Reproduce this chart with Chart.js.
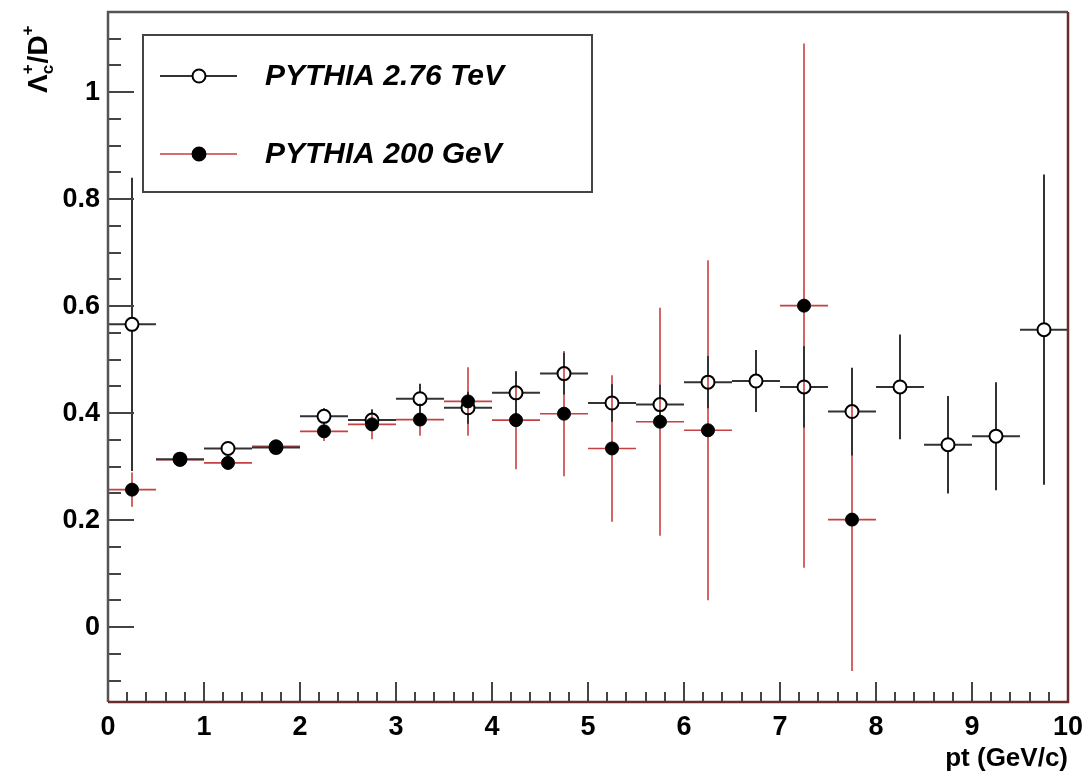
<!DOCTYPE html>
<html><head><meta charset="utf-8">
<script src="https://cdn.jsdelivr.net/npm/chart.js@4.4.0/dist/chart.umd.min.js"></script>
<style>html,body{margin:0;padding:0;background:#fff}#wrap{width:1088px;height:776px}</style>
</head><body><div id="wrap"><canvas id="c" width="1088" height="776"></canvas></div>
<script>
// ---- data ----
const binCenters   = [0.25,0.75,1.25,1.75,2.25,2.75,3.25,3.75,4.25,4.75,5.25,5.75,6.25,6.75,7.25,7.75,8.25,8.75,9.25,9.75];
const binHalfWidth = 0.25;
const tevValues = [0.566,0.314,0.334,0.336,0.394,0.387,0.427,0.410,0.438,0.474,0.419,0.416,0.458,0.460,0.449,0.403,0.449,0.341,0.357,0.556];
const tevErrors = [0.274,0.008,0.010,0.010,0.015,0.020,0.028,0.030,0.040,0.039,0.035,0.037,0.049,0.058,0.076,0.082,0.098,0.091,0.101,0.290];
const gevValues = [0.257,0.313,0.307,0.338,0.366,0.379,0.388,0.422,0.387,0.399,0.334,0.384,0.368,null,0.601,0.201,null,null,null,null];
const gevErrors = [0.032,0.010,0.012,0.010,0.018,0.028,0.030,0.064,0.092,0.117,0.137,0.213,0.318,null,0.490,0.283,null,null,null,null];
const xTickValues = [0,1,2,3,4,5,6,7,8,9,10];
const yTickValues = [0,0.2,0.4,0.6,0.8,1];
const yTickLabels = ['0','0.2','0.4','0.6','0.8','1'];
const seriesLabels = ['PYTHIA 2.76 TeV','PYTHIA 200 GeV'];

const FONT = '"Liberation Sans", Arial, Helvetica, sans-serif';
const RADIUS = 6.5;
const tevColor = '#333333';
const gevColor = '#c84040';

function pts(vals, errs){
  const out = [];
  binCenters.forEach((x,i)=>{ if(vals[i]!==null) out.push({x:x, y:vals[i], e:errs[i]}); });
  return out;
}

const errorBars = {
  id:'errorBars',
  beforeDatasetsDraw(chart){
    const ctx = chart.ctx, xs = chart.scales.x, ys = chart.scales.y;
    const area = chart.chartArea;
    ctx.save();
    ctx.beginPath(); ctx.rect(area.left, area.top, area.right-area.left, area.bottom-area.top); ctx.clip();
    [1,0].forEach(di=>{
      const ds = chart.data.datasets[di];
      ctx.strokeStyle = ds.errColor; ctx.lineWidth = ds.errWidth;
      ds.data.forEach(p=>{
        const px = xs.getPixelForValue(p.x), py = ys.getPixelForValue(p.y);
        const x1 = xs.getPixelForValue(p.x-binHalfWidth), x2 = xs.getPixelForValue(p.x+binHalfWidth);
        const yt = ys.getPixelForValue(p.y+p.e), yb = ys.getPixelForValue(p.y-p.e);
        const g = RADIUS;
        ctx.beginPath();
        ctx.moveTo(x1,py); ctx.lineTo(px-g,py);
        ctx.moveTo(px+g,py); ctx.lineTo(x2,py);
        if (py-yt > g){ ctx.moveTo(px,yt); ctx.lineTo(px,py-g); }
        if (yb-py > g){ ctx.moveTo(px,py+g); ctx.lineTo(px,yb); }
        ctx.stroke();
      });
    });
    ctx.restore();
  }
};

const frameAndDecor = {
  id:'frameAndDecor',
  afterDraw(chart){
    const ctx = chart.ctx, xs = chart.scales.x, ys = chart.scales.y, a = chart.chartArea;
    ctx.save();
    ctx.strokeStyle = '#444'; ctx.lineWidth = 2;
    ctx.beginPath();
    const yStart = Math.ceil(ys.min/0.05-1e-6)*0.05;
    for (let k=0; yStart + k*0.05 <= ys.max + 1e-9; k++){
      const v = yStart + k*0.05;
      const major = Math.abs(v/0.2 - Math.round(v/0.2)) < 1e-6;
      const py = Math.round(ys.getPixelForValue(v));
      ctx.moveTo(a.left, py); ctx.lineTo(a.left + (major?26:13), py);
    }
    for (let k=0; k<=50; k++){
      const v = k*0.2;
      const major = k%5===0;
      const px = Math.round(xs.getPixelForValue(v));
      ctx.moveTo(px, a.bottom); ctx.lineTo(px, a.bottom - (major?20:10));
    }
    ctx.stroke();
    ctx.lineWidth = 2.5;
    ctx.strokeStyle = '#555';
    ctx.beginPath(); ctx.moveTo(a.left, a.bottom); ctx.lineTo(a.left, a.top); ctx.lineTo(a.right, a.top); ctx.stroke();
    ctx.strokeStyle = '#6a2c2c';
    ctx.beginPath(); ctx.moveTo(a.left, a.bottom); ctx.lineTo(a.right, a.bottom); ctx.lineTo(a.right, a.top); ctx.stroke();

    // y axis title  Λc+/D+
    ctx.fillStyle = '#000';
    ctx.translate(47, 93); ctx.rotate(-Math.PI/2);
    ctx.textBaseline = 'alphabetic'; ctx.textAlign = 'left';
    let x = 0;
    const big = 'bold 28px '+FONT, small = 'bold 17px '+FONT;
    ctx.font = big; ctx.fillText('\u039B', x, 0);
    x += ctx.measureText('\u039B').width;
    ctx.font = small; ctx.fillText('c', x, 6); ctx.fillText('+', x, -14);
    x += ctx.measureText('+').width + 1;
    ctx.font = big; ctx.fillText('/D', x, 0); x += ctx.measureText('/D').width;
    ctx.font = small; ctx.fillText('+', x, -14);
    ctx.setTransform(1,0,0,1,0,0);

    ctx.font = 'bold 26px '+FONT; ctx.textAlign = 'right'; ctx.textBaseline = 'alphabetic';
    ctx.fillText('pt (GeV/c)', a.right, 766);

    // legend
    const L = {l:143, t:35, r:592, b:192};
    ctx.fillStyle = '#fff'; ctx.fillRect(L.l, L.t, L.r-L.l, L.b-L.t);
    ctx.strokeStyle = '#444'; ctx.lineWidth = 2;
    ctx.strokeRect(L.l, L.t, L.r-L.l, L.b-L.t);
    const rows = [76, 154];
    chart.data.datasets.forEach((ds,i)=>{
      const y = rows[i];
      ctx.strokeStyle = ds.errColor; ctx.lineWidth = ds.errWidth;
      ctx.beginPath(); ctx.moveTo(160,y); ctx.lineTo(199-RADIUS,y); ctx.moveTo(199+RADIUS,y); ctx.lineTo(237,y); ctx.stroke();
      ctx.beginPath(); ctx.arc(199,y,RADIUS,0,Math.PI*2);
      ctx.fillStyle = ds.backgroundColor; ctx.fill();
      ctx.strokeStyle = ds.borderColor; ctx.lineWidth = 2; ctx.stroke();
      ctx.fillStyle = '#000'; ctx.font = 'italic bold 30px '+FONT;
      ctx.textAlign = 'left'; ctx.textBaseline = 'middle';
      ctx.fillText(ds.label, 265, y+1);
    });
    ctx.restore();
  }
};

new Chart(document.getElementById('c'), {
  type:'scatter',
  data:{ datasets:[
    { label:seriesLabels[0], data:pts(tevValues,tevErrors), pointRadius:RADIUS, pointHoverRadius:RADIUS,
      backgroundColor:'rgba(255,255,255,0)', borderColor:'#000', borderWidth:2, errColor:tevColor, errWidth:2, order:2 },
    { label:seriesLabels[1], data:pts(gevValues,gevErrors), pointRadius:RADIUS, pointHoverRadius:RADIUS,
      backgroundColor:'#000', borderColor:'#000', borderWidth:1, errColor:gevColor, errWidth:1.6, order:1 }
  ]},
  options:{
    responsive:false, animation:false, devicePixelRatio:1,
    layout:{ padding:{ left:0, top:12, right:20, bottom:0 } },
    plugins:{ legend:{display:false}, tooltip:{enabled:false} },
    scales:{
      x:{ type:'linear', min:0, max:10,
          afterBuildTicks(s){ s.ticks = xTickValues.map(v=>({value:v})); },
          afterFit(s){ s.height = 74; s.paddingLeft = 0; s.paddingRight = 0; },
          grid:{display:false, drawTicks:false}, border:{display:false},
          ticks:{ color:'#000', padding:9, maxRotation:0, autoSkip:false, font:{family:FONT, size:27, weight:'bold'} } },
      y:{ type:'linear', min:-0.14, max:1.15,
          afterBuildTicks(s){ s.ticks = yTickValues.map(v=>({value:v})); },
          afterFit(s){ s.width = 108; s.paddingTop = 0; s.paddingBottom = 0; },
          grid:{display:false, drawTicks:false}, border:{display:false},
          ticks:{ color:'#000', padding:8, autoSkip:false, font:{family:FONT, size:27, weight:'bold'},
                  callback(v){ const i = yTickValues.indexOf(v); return i>=0 ? yTickLabels[i] : ''; } } }
    }
  },
  plugins:[errorBars, frameAndDecor]
});
</script></body></html>
